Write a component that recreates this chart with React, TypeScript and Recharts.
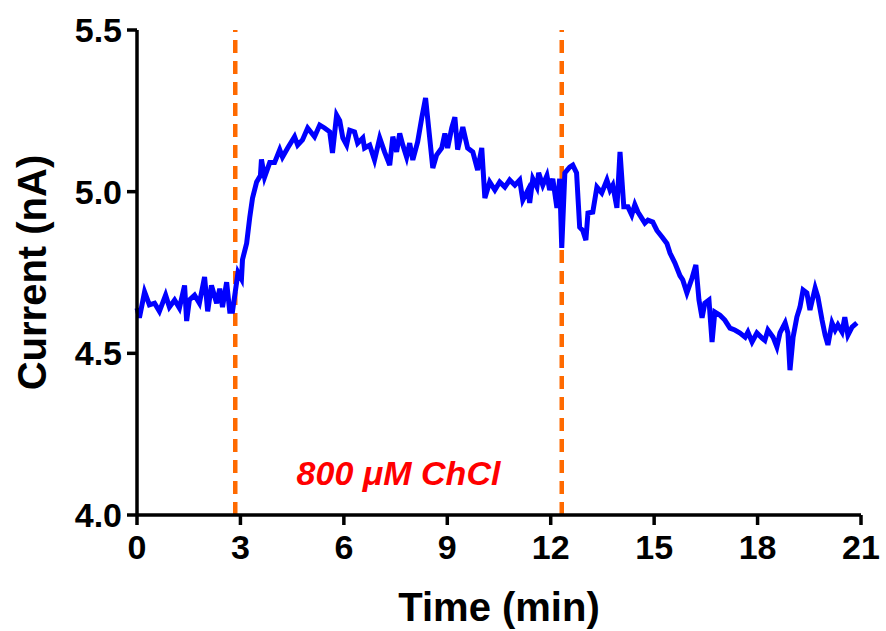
import React from 'react';
import { LineChart, Line, XAxis, YAxis, ReferenceLine, ReferenceArea } from 'recharts';

// time (min) and current (nA)
const time = [
  0.0, 0.07, 0.22, 0.36, 0.51, 0.65, 0.83, 0.94, 1.09, 1.23, 1.38, 1.44, 1.52, 1.67, 1.81, 1.96,
  2.05, 2.16, 2.31, 2.4, 2.48, 2.6, 2.69, 2.77, 2.85, 2.93, 3.03, 3.06, 3.18, 3.27, 3.35, 3.47,
  3.58, 3.61, 3.7, 3.85, 3.99, 4.14, 4.22, 4.37, 4.57, 4.66, 4.8, 4.95, 5.15, 5.3, 5.44, 5.59,
  5.67, 5.79, 5.88, 5.97, 6.08, 6.17, 6.31, 6.4, 6.55, 6.6, 6.75, 6.89, 7.04, 7.18, 7.33, 7.42,
  7.53, 7.62, 7.71, 7.82, 7.91, 8.0, 8.14, 8.26, 8.37, 8.46, 8.58, 8.69, 8.84, 8.93, 9.01, 9.13,
  9.22, 9.3, 9.45, 9.59, 9.74, 9.88, 10.0, 10.09, 10.23, 10.38, 10.52, 10.67, 10.81, 10.96, 11.1, 11.19,
  11.34, 11.39, 11.48, 11.6, 11.65, 11.77, 11.89, 11.97, 12.06, 12.18, 12.26, 12.32, 12.41, 12.55, 12.64, 12.75,
  12.84, 12.93, 13.02, 13.08, 13.22, 13.34, 13.48, 13.63, 13.72, 13.8, 13.92, 14.01, 14.12, 14.24, 14.35, 14.44,
  14.53, 14.64, 14.73, 14.82, 14.96, 15.08, 15.23, 15.37, 15.46, 15.6, 15.75, 15.83, 15.95, 16.1, 16.21, 16.3,
  16.39, 16.47, 16.59, 16.68, 16.76, 16.91, 17.05, 17.2, 17.34, 17.49, 17.64, 17.72, 17.84, 17.98, 18.13, 18.21,
  18.3, 18.45, 18.56, 18.65, 18.8, 18.88, 18.94, 19.03, 19.14, 19.23, 19.32, 19.43, 19.52, 19.67, 19.75, 19.87,
  19.96, 20.04, 20.16, 20.25, 20.33, 20.45, 20.53, 20.62, 20.74, 20.88,
];
const current = [
  4.64, 4.61, 4.69, 4.65, 4.655, 4.63, 4.68, 4.643, 4.665, 4.64, 4.71, 4.6, 4.665, 4.68, 4.655, 4.736,
  4.63, 4.71, 4.655, 4.7, 4.643, 4.72, 4.63, 4.63, 4.69, 4.75, 4.73, 4.79, 4.84, 4.92, 4.98, 5.03,
  5.05, 5.1, 5.045, 5.09, 5.09, 5.13, 5.107, 5.135, 5.17, 5.144, 5.16, 5.197, 5.17, 5.206, 5.197, 5.185,
  5.12, 5.237, 5.22, 5.166, 5.144, 5.19, 5.185, 5.15, 5.166, 5.135, 5.144, 5.098, 5.166, 5.123, 5.082, 5.17,
  5.123, 5.18, 5.144, 5.107, 5.15, 5.098, 5.154, 5.228, 5.29, 5.197, 5.073, 5.113, 5.135, 5.18, 5.135, 5.197,
  5.23, 5.13, 5.2, 5.135, 5.123, 5.067, 5.135, 4.98, 5.03, 5.005, 5.03, 5.014, 5.036, 5.02, 5.036, 4.974,
  5.005, 4.965, 5.04, 5.014, 5.058, 5.02, 5.05, 5.005, 5.04, 4.95, 5.04, 4.826, 5.058, 5.076, 5.082, 5.058,
  4.89, 4.88, 4.85, 4.934, 4.937, 5.014, 4.996, 5.036, 5.005, 5.02, 4.95, 5.123, 4.953, 4.953, 4.928, 4.96,
  4.937, 4.918, 4.903, 4.912, 4.906, 4.88, 4.86, 4.84, 4.81, 4.78, 4.74, 4.727, 4.687, 4.733, 4.773, 4.665,
  4.61, 4.655, 4.665, 4.535, 4.628, 4.618, 4.603, 4.578, 4.572, 4.563, 4.55, 4.566, 4.535, 4.563, 4.547, 4.54,
  4.572, 4.55, 4.52, 4.563, 4.594, 4.563, 4.448, 4.55, 4.612, 4.643, 4.696, 4.687, 4.634, 4.702, 4.674, 4.603,
  4.556, 4.526, 4.594, 4.572, 4.588, 4.566, 4.612, 4.556, 4.581, 4.594,
];
const xTicks = [0, 3, 6, 9, 12, 15, 18, 21];
const yTicks = [4.0, 4.5, 5.0, 5.5];
const markers = [2.85, 12.32];
const annotation = '800 \u03BCM ChCl';

const data = time.map((t, i) => ({ t, c: current[i] }));

const font = '"Liberation Sans", Arial, sans-serif';
const tickStyle = { fill: '#000', fontSize: 34, fontWeight: 'bold', fontFamily: font };
const titleStyle = { fill: '#000', fontSize: 40, fontWeight: 'bold', fontFamily: font };

export default function App() {
  return (
    <div style={{ position: 'absolute', left: 0, top: 0 }}>
      <LineChart width={886} height={631} data={data} margin={{ top: 30, right: 25, left: 0, bottom: 0 }}>
        <XAxis
          dataKey="t"
          type="number"
          domain={[0, 21]}
          ticks={xTicks}
          tickSize={10}
          tickMargin={10}
          stroke="#000"
          strokeWidth={3.5}
          height={116}
          tick={tickStyle}
          label={{ value: 'Time (min)', position: 'insideBottom', offset: 10, style: titleStyle }}
        />
        <YAxis
          type="number"
          domain={[4, 5.5]}
          ticks={yTicks}
          tickFormatter={(v: number) => v.toFixed(1)}
          tickSize={10}
          tickMargin={5}
          stroke="#000"
          strokeWidth={3.5}
          width={137}
          tick={tickStyle}
          label={{ value: 'Current (nA)', angle: -90, position: 'insideLeft', offset: 32, style: { ...titleStyle, textAnchor: 'middle' } }}
        />
        <ReferenceArea
          x1={markers[0]}
          x2={markers[1]}
          y1={4.0}
          y2={4.26}
          fillOpacity={0}
          strokeOpacity={0}
          label={{ value: annotation, position: 'center', style: { fill: '#FF0000', fontSize: 34, fontWeight: 'bold', fontStyle: 'italic', fontFamily: font } }}
        />
        {markers.map((m) => (
          <ReferenceLine key={m} x={m} stroke="#FF6A00" strokeWidth={4.5} strokeDasharray="13 8" />
        ))}
        <Line type="linear" dataKey="c" stroke="#0000FF" strokeWidth={5} strokeLinejoin="miter" dot={false} isAnimationActive={false} />
      </LineChart>
    </div>
  );
}
